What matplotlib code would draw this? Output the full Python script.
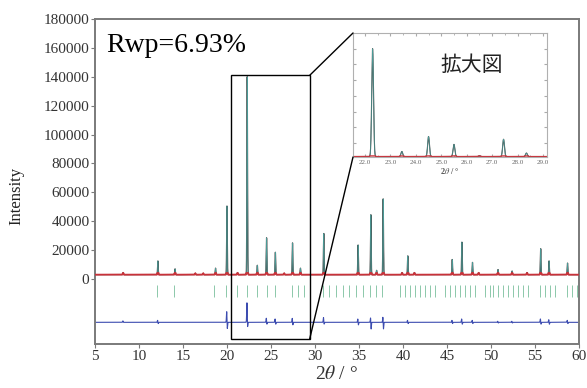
import numpy as np
import matplotlib
matplotlib.use("Agg")
import matplotlib.pyplot as plt
from matplotlib.patches import Rectangle, ConnectionPatch

plt.rcParams['font.family'] = ['Liberation Serif', 'Noto Sans CJK JP', 'DejaVu Sans']
plt.rcParams['mathtext.fontset'] = 'stix'

# peak table (2theta, height above background)
baseline = 3000
peak_pos = [8.2, 12.15, 14.1, 16.4, 17.3, 18.7, 20.0, 21.2, 22.3, 23.45, 24.5, 25.5,
            26.5, 27.45, 28.35, 31.0, 34.9, 36.35, 37.0, 37.75, 39.9, 40.55, 41.3,
            45.6, 46.7, 47.9, 48.6, 50.8, 52.4, 54.1, 55.65, 56.6, 58.7]
peak_int = [1500, 9500, 4000, 1000, 1000, 4500, 47500, 1500, 137000, 6500, 25500, 15500,
            1000, 22000, 4500, 28500, 20500, 41500, 3000, 52500, 1500, 13000, 1500,
            10500, 22500, 8500, 1500, 3500, 2500, 1500, 18000, 9500, 8000]

# difference curve spikes
diff_offset = -30000
diff_pos = [8.2, 12.15, 20.0, 22.3, 24.5, 25.5, 27.45, 31.0, 34.9, 36.35, 37.75, 40.55,
            45.6, 46.7, 47.9, 50.8, 52.4, 55.65, 56.6, 58.7]
diff_up = [1000, 1500, 8000, 14000, 3000, 2500, 3000, 3500, 2500, 3500, 4000, 1500,
           1500, 2500, 1500, 800, 800, 2500, 2000, 1500]
diff_dn = [0, 1000, 5000, 4000, 1500, 1500, 2000, 1500, 2000, 5000, 5000, 1000,
           1000, 1500, 1000, 500, 500, 1500, 1500, 1000]

# reflection markers
refl_pos = [12.05, 14.0, 18.5, 19.9, 21.1, 22.3, 23.4, 24.5, 25.5, 27.4, 28.1, 28.7,
            30.9, 31.6, 32.4, 33.2, 33.9, 34.7, 35.5, 36.3, 36.9, 37.6,
            39.7, 40.2, 40.8, 41.4, 41.9, 42.5, 43.1, 43.6,
            44.8, 45.3, 45.9, 46.5, 47.0, 47.6, 48.2,
            49.3, 49.9, 50.2, 50.8, 51.4, 51.9, 52.5, 53.1, 53.6, 54.2,
            55.6, 56.1, 56.7, 57.3, 58.6, 59.2, 59.8]

x = np.arange(5, 60.001, 0.004)
sig = 0.035


def profile(xx):
    y = np.full_like(xx, baseline, dtype=float)
    for p, h in zip(peak_pos, peak_int):
        y += h * np.exp(-0.5 * ((xx - p) / sig) ** 2)
    return y


obs = profile(x)
diff = np.full_like(x, diff_offset, dtype=float)
for p, u, d in zip(diff_pos, diff_up, diff_dn):
    diff += u * np.exp(-0.5 * ((x - p + 0.03) / 0.03) ** 2)
    diff -= d * np.exp(-0.5 * ((x - p - 0.03) / 0.03) ** 2)

red = '#c8323a'
teal = '#4a9a96'
dark = '#4a4040'
blue = '#3c4cb0'
grey = '#7a7a7a'

fig = plt.figure(figsize=(5.87, 3.88), dpi=100)
ax = fig.add_axes([0.1618, 0.1134, 0.8245, 0.8376])

ax.plot(x, obs, color=dark, lw=0.9, zorder=2)
ax.plot(x, obs, color=teal, lw=0.5, zorder=3)
ax.plot(x, np.minimum(obs, baseline + 1200), color=red, lw=1.3, zorder=4)
ax.vlines(refl_pos, -12500, -4000, color='#8cc8aa', lw=0.7)
ax.plot(x, diff, color=blue, lw=0.8)

ax.set_xlim(5, 60)
ax.set_ylim(-45000, 180000)
ax.set_xticks(np.arange(5, 61, 5))
ax.set_yticks(np.arange(0, 180001, 20000))
ax.tick_params(direction='out', length=3, color=grey, labelsize=11, labelcolor='#333333', pad=1)
for s in ax.spines.values():
    s.set_color(grey)
    s.set_linewidth(1.4)
ax.set_ylabel('Intensity', fontsize=12, color='#222222')
ax.yaxis.set_label_coords(-0.145, 0.455)
ax.set_xlabel(r'2$\theta$ / °', fontsize=14, color='#333333', labelpad=2)

ax.text(0.023, 0.92, 'Rwp=6.93%', transform=ax.transAxes, fontsize=20, va='center', ha='left')

# zoom box
rect = Rectangle((20.45, -41500), 29.4 - 20.45, 141000 + 41500, fill=False, edgecolor='black', lw=1.0, zorder=5)
ax.add_patch(rect)

ins = fig.add_axes([0.6014, 0.5954, 0.3305, 0.3196])
ins.plot(x, obs, color=dark, lw=0.8)
ins.plot(x, obs, color=teal, lw=0.5)
ins.plot(x, np.minimum(obs, baseline + 800), color=red, lw=1.0)
ins.set_xlim(21.53, 29.16)
ins.set_ylim(2500, 160000)
ins.set_xticks(np.arange(22, 29.01, 1.0))
ins.set_xticklabels(['%.1f' % v for v in np.arange(22, 29.01, 1.0)])
ins.set_xticks(np.arange(22, 29.01, 0.5), minor=True)
ins.set_yticks(np.arange(20000, 160000, 20000))
ins.set_yticklabels([])
ins.tick_params(direction='in', length=2, color='#aaaaaa', labelsize=5, labelcolor='#666666',
                top=True, right=True, pad=2)
ins.tick_params(which='minor', direction='in', length=1.5, color='#aaaaaa', top=True)
for s in ins.spines.values():
    s.set_color('#b0b0b0')
    s.set_linewidth(0.8)
ins.set_xlabel(r'2$\theta$ / °', fontsize=6, color='#555555', labelpad=1, fontweight='bold')
ins.text(0.61, 0.74, '拡大図', transform=ins.transAxes, fontsize=15, ha='center', va='center',
         family=['Noto Sans CJK JP'], color='#222222')

for ya, yb in [(141000, 1), (-41500, 0)]:
    con = ConnectionPatch(xyA=(29.4, ya), coordsA=ax.transData, xyB=(0, yb), coordsB=ins.transAxes,
                          color='black', lw=1.0)
    fig.add_artist(con)

fig.savefig('out.png', dpi=100)
